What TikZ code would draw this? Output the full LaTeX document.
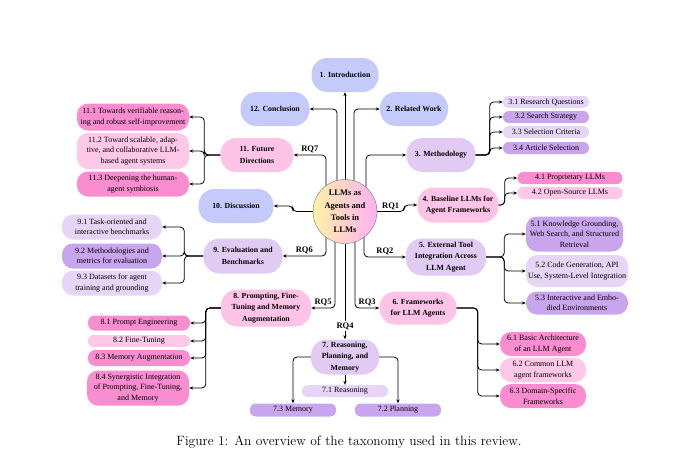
\documentclass[tikz,border=0pt]{standalone}
\usepackage{fontspec}
\newfontfamily\tnr{Liberation Serif}
\usetikzlibrary{arrows.meta,backgrounds}
\definecolor{cBlue}{HTML}{C4CAF9}
\definecolor{cLav}{HTML}{E1CBF4}
\definecolor{cPink}{HTML}{FFC3E8}
\definecolor{cDPink}{HTML}{F98DD0}
\definecolor{cLPink}{HTML}{FFC8E8}
\definecolor{cDLav}{HTML}{C9A5EE}
\definecolor{cLLav}{HTML}{E7D5F7}
\definecolor{cYel}{HTML}{FFF2A6}
\definecolor{cMag}{HTML}{FFB0F2}

\begin{document}
\begin{tikzpicture}[x=1pt,y=-1pt,>=Stealth]
\tikzset{topic/.style={font=\tnr\bfseries\fontsize{7.8}{11.5}\selectfont,align=center,rounded corners=16pt,minimum height=34pt,inner sep=2pt},
 sub/.style={font=\tnr\fontsize{8}{10.5}\selectfont,align=center,rounded corners=11pt,inner xsep=2pt,inner ysep=1.5pt},
 pill/.style={sub,rounded corners=5.8pt,minimum height=12pt},
 rq/.style={font=\tnr\bfseries\fontsize{8.5}{10}\selectfont,inner sep=1.5pt},
 arr/.style={-{Stealth[length=4pt,width=3.2pt]},line width=0.8pt,rounded corners=4pt}}
\useasboundingbox (0,0) rectangle (699,456);
% hub
\node[draw=black!55,line width=0.4pt,circle,minimum size=64pt,inner sep=0pt,left color=cYel,right color=cMag,align=center,
 font=\tnr\bfseries\fontsize{8.5}{12.2}\selectfont] (core) at (345,211.5) {LLMs as\\Agents and\\Tools in\\LLMs};
% sections
\node[topic,fill=cBlue,minimum width=67pt] (intro) at (345,75) {1. Introduction};
\node[topic,fill=cBlue,minimum width=68pt] (related) at (414,109) {2. Related Work};
\node[topic,fill=cBlue,minimum width=69pt] (concl) at (275,109) {12. Conclusion};
\node[topic,fill=cLav,minimum width=69pt] (method) at (441,155) {3. Methodology};
\node[topic,fill=cPink,minimum width=73pt] (future) at (257,155) {11. Future\\Directions};
\node[topic,fill=cPink,minimum width=81pt,minimum height=35pt] (base) at (458,205) {4. Baseline LLMs for\\Agent Frameworks};
\node[topic,fill=cBlue,minimum width=75pt] (disc) at (236,206) {10. Discussion};
\node[topic,fill=cLav,minimum width=79pt,minimum height=35pt] (eval) at (243,256) {9. Evaluation and\\Benchmarks};
\node[topic,fill=cLav,minimum width=80pt,minimum height=37pt] (tool) at (446,257) {5. External Tool\\Integration Across\\LLM Agent};
\node[topic,fill=cPink,minimum width=90pt,minimum height=37pt] (prompt) at (266,308) {8. Prompting, Fine-\\Tuning and Memory\\Augmentation};
\node[topic,fill=cPink,minimum width=77pt,minimum height=33pt] (frame) at (418,308) {6. Frameworks\\for LLM Agents};
\node[topic,fill=cLav,minimum width=68pt,minimum height=35pt] (reas) at (345,357) {7. Reasoning,\\Planning, and\\Memory};
% 3
\node[pill,fill=cLLav,minimum width=86pt] (m1) at (546,102) {3.1 Research Questions};
\node[pill,fill=cDLav,minimum width=86pt] (m2) at (546,117) {3.2 Search Strategy};
\node[pill,fill=cLLav,minimum width=86pt] (m3) at (546,132) {3.3 Selection Criteria};
\node[pill,fill=cDLav,minimum width=86pt] (m4) at (546,148) {3.4 Article Selection};
% 4
\node[pill,fill=cDPink,minimum width=105pt] (b1) at (570,178) {4.1 Proprietary LLMs};
\node[pill,fill=cLPink,minimum width=105pt] (b2) at (570,193) {4.2 Open-Source LLMs};
% 5
\node[sub,fill=cDLav,minimum width=97pt,minimum height=35pt] (t1) at (574.5,234) {5.1 Knowledge Grounding,\\Web Search, and Structured\\Retrieval};
\node[sub,fill=cLLav,minimum width=102pt,minimum height=32pt] (t2) at (577,271) {5.2 Code Generation, API\\Use, System-Level Integration};
\node[sub,fill=cDLav,minimum width=102pt,minimum height=23pt] (t3) at (577,303) {5.3 Interactive and Embo-\\died Environments};
% 6
\node[sub,fill=cDPink,minimum width=86pt,minimum height=24pt] (f1) at (543,344) {6.1 Basic Architecture\\of an LLM Agent};
\node[sub,fill=cLPink,minimum width=86pt,minimum height=24pt] (f2) at (543,370) {6.2 Common LLM\\agent frameworks};
\node[sub,fill=cDPink,minimum width=86pt,minimum height=24pt] (f3) at (543,396) {6.3 Domain-Specific\\Frameworks};
% 7
\node[pill,fill=cLLav,minimum width=86pt] (r1) at (345,391) {7.1 Reasoning};
\node[pill,fill=cDLav,minimum width=86pt,minimum height=13pt] (r2) at (398,410) {7.2 Planning};
\node[pill,fill=cDLav,minimum width=86pt,minimum height=13pt] (r3) at (293,410) {7.3 Memory};
% 8
\node[sub,fill=cDPink,minimum width=102pt,minimum height=15pt,rounded corners=7pt] (p1) at (139,323) {8.1 Prompt Engineering};
\node[pill,fill=cLPink,minimum width=102pt] (p2) at (139,341) {8.2 Fine-Tuning};
\node[sub,fill=cDPink,minimum width=102pt,minimum height=16pt,rounded corners=7.5pt] (p3) at (139,358) {8.3 Memory Augmentation};
\node[sub,fill=cDPink,minimum width=102pt,minimum height=35pt] (p4) at (138,388) {8.4 Synergistic Integration\\of Prompting, Fine-Tuning,\\and Memory};
% 9
\node[sub,fill=cLLav,minimum width=100pt,minimum height=25pt] (e1) at (112,227) {9.1 Task-oriented and\\interactive benchmarks};
\node[sub,fill=cDLav,minimum width=100pt,minimum height=25pt] (e2) at (112,256) {9.2 Methodologies and\\metrics for evaluation};
\node[sub,fill=cLLav,minimum width=100pt,minimum height=25pt] (e3) at (112,283) {9.3 Datasets for agent\\training and grounding};
% 11
\node[sub,fill=cDPink,minimum width=112pt,minimum height=27pt] (d1) at (133,117) {11.1 Towards verifiable reason-\\ing and robust self-improvement};
\node[sub,fill=cLPink,minimum width=112pt,minimum height=36pt] (d2) at (133,151) {11.2 Toward scalable, adap-\\tive, and collaborative LLM-\\based agent systems};
\node[sub,fill=cDPink,minimum width=112pt,minimum height=25pt] (d3) at (133,184) {11.3 Deepening the human-\\agent symbiosis};
% hub links
\begin{scope}[on background layer]
\draw[arr] (core.center) -- (intro.south);
\draw[arr] ([xshift=9pt]core.center) |- (related.west);
\draw[arr] ([xshift=-8pt]core.center) |- (concl.east);
\draw[arr] ([xshift=21pt]core.center) |- (method.west);
\draw[arr] ([xshift=-19pt]core.center) |- node[rq,pos=0.75,above]{RQ7} (future.east);
\draw[arr] (core.east) -- node[rq,above]{RQ1} ++(27,0) |- (base.west);
\draw[arr] (core.west) -- ++(-20,0) |- (disc.east);
\draw[arr] ([xshift=-19pt]core.center) |- node[rq,pos=0.75,above]{RQ6} (eval.east);
\draw[arr] ([xshift=19pt]core.center) |- node[rq,pos=0.75,above]{RQ2} (tool.west);
\draw[arr] ([xshift=-10pt]core.center) |- node[rq,pos=0.75,above]{RQ5} (prompt.east);
\draw[arr] ([xshift=10pt]core.center) |- node[rq,pos=0.75,above]{RQ3} (frame.west);
\draw[arr] (core.south) -- node[rq,fill=white,pos=0.86]{RQ4} (reas.north);
\end{scope}
% section links
\foreach \c in {m1,m2,m3,m4} \draw[arr] (method.east) -- ++(14,0) |- (\c.west);
\foreach \c in {b1,b2} \draw[arr] (base.east) -- ++(6,0) |- (\c.west);
\foreach \c in {t1,t2,t3} \draw[arr] (tool.east) -- ++(18,0) |- (\c.west);
\foreach \c in {f1,f2,f3} \draw[arr] (frame.east) -- ++(21,0) |- (\c.west);
\foreach \c in {p1,p2,p3,p4} \draw[arr] (prompt.west) -- ++(-15,0) |- (\c.east);
\foreach \c in {e1,e2,e3} \draw[arr] (eval.west) -- ++(-19,0) |- (\c.east);
\foreach \c in {d1,d2,d3} \draw[arr] (future.west) -- ++(-16,0) |- (\c.east);
\draw[arr] (reas.south) -- (r1.north);
\draw[arr] (reas.east) -| (r2.north);
\draw[arr] (reas.west) -| (r3.north);
% caption
\node (cap) at (349,442) {\fontsize{13.5}{16}\selectfont Figure 1: An overview of the taxonomy used in this review.};
\end{tikzpicture}
\end{document}
